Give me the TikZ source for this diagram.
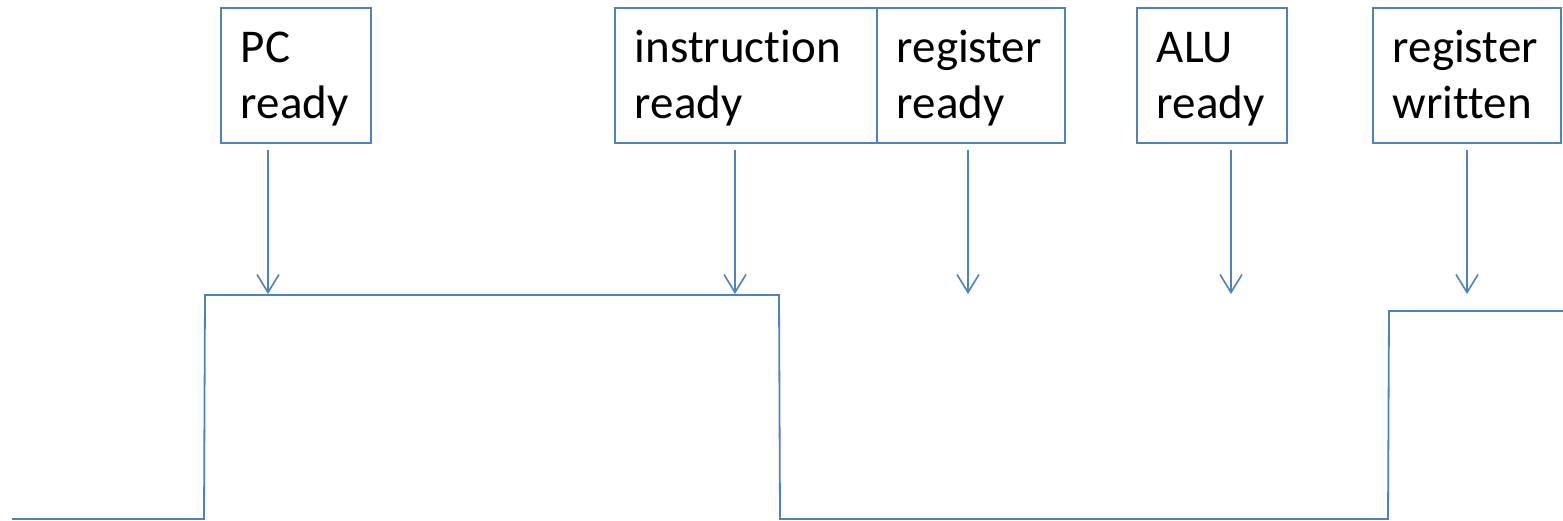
\documentclass[tikz,border=0pt]{standalone}
\usepackage{fontspec}
\setmainfont[Ligatures=NoCommon]{Carlito}
\usetikzlibrary{arrows.meta}
\definecolor{lineblue}{HTML}{4F81BD}
\newcommand\twolines[2]{\rule{0pt}{43pt}#1\\#2\rule[-13pt]{0pt}{13pt}}
\begin{document}
\begin{tikzpicture}[x=1pt,y=-1pt,
  label box/.style={draw=lineblue, line width=1.6pt, anchor=north west, inner xsep=20pt, inner ysep=0pt,
    minimum height=135pt, align=left, font=\fontsize{47}{56}\selectfont, text=black},
  signal/.style={draw=lineblue, line width=1.8pt},
  marker/.style={draw=lineblue, line width=1.6pt, -{Straight Barb[length=18pt,width=22pt,line width=1.6pt]}}]
\useasboundingbox (0,0) rectangle (1563,521);
% boxes
\node[label box, minimum width=150pt, text width=110pt] (pc) at (220,7) {\twolines{PC}{ready}};
\node[label box, minimum width=262pt, text width=222pt] (instr) at (614,7) {\twolines{instruction}{ready}};
\node[label box, minimum width=188pt, text width=148pt] (reg) at (876,7) {\twolines{register}{ready}};
\node[label box, minimum width=150pt, text width=110pt] (alu) at (1136,7) {\twolines{ALU}{ready}};
\node[label box, minimum width=188pt, text width=148pt] (wr) at (1372,7) {\twolines{register}{written}};
% arrow coordinates
\coordinate (a1s) at (268,150); \coordinate (a1e) at (268,294);
\coordinate (a2s) at (735,150); \coordinate (a2e) at (735,294);
\coordinate (a3s) at (968,150); \coordinate (a3e) at (968,294);
\coordinate (a4s) at (1231,150); \coordinate (a4e) at (1231,294);
\coordinate (a5s) at (1467,150); \coordinate (a5e) at (1467,294);
\draw[marker] (a1s) -- (a1e);
\draw[marker] (a2s) -- (a2e);
\draw[marker] (a3s) -- (a3e);
\draw[marker] (a4s) -- (a4e);
\draw[marker] (a5s) -- (a5e);
% signal
\coordinate (s0) at (12,519);
\coordinate (s1) at (204,519);
\coordinate (s2) at (205,295);
\coordinate (s3) at (779,295);
\coordinate (s4) at (780,519);
\coordinate (s5) at (1388,519);
\coordinate (s6) at (1389,311);
\coordinate (s7) at (1563,311);
\draw[signal] (s0) -- (s1) -- (s2) -- (s3) -- (s4) -- (s5) -- (s6) -- (s7);
\end{tikzpicture}
\end{document}
